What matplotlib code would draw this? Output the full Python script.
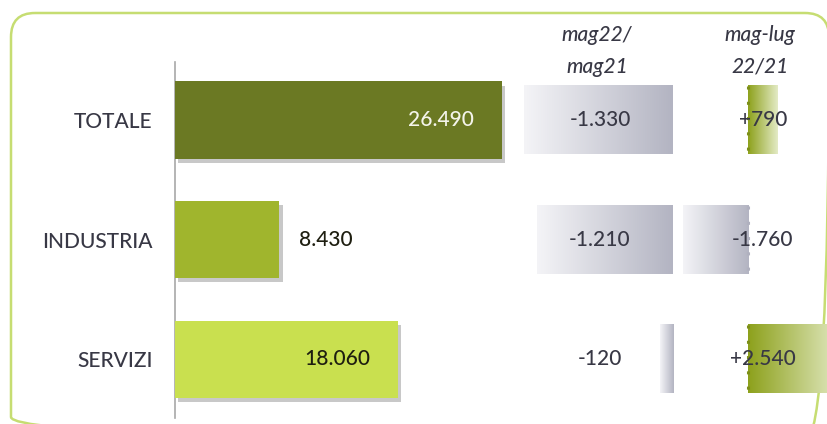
import matplotlib.pyplot as plt
import numpy as np
from matplotlib import patheffects
from matplotlib.colors import LinearSegmentedColormap
from matplotlib.patches import FancyBboxPatch

plt.rcParams["font.family"] = ["Lato", "DejaVu Sans"]
plt.rcParams["font.weight"] = "medium"

# data
categories = ["TOTALE", "INDUSTRIA", "SERVIZI"]
values = [26490, 8430, 18060]
delta_yoy = [-1330, -1210, -120]      # mag22/mag21
delta_mayjul = [790, -1760, 2540]     # mag-lug 22/21
value_labels = ["26.490", "8.430", "18.060"]
yoy_labels = ["-1.330", "-1.210", "-120"]
mayjul_labels = ["+790", "-1.760", "+2.540"]
bar_colors = ["#6b7923", "#a0b52d", "#c9e04f"]

W, H = 828, 424
TXT = "#383845"
FS = 15


def rect(x0, y0, x1, y1):
    # pixel box -> figure fraction
    return [x0 / W, 1 - y1 / H, (x1 - x0) / W, (y1 - y0) / H]


fig = plt.figure(figsize=(W / 100, H / 100), dpi=100)
fig.patch.set_facecolor("white")

# rounded green frame
deco = fig.add_axes([0, 0, 1, 1], zorder=0)
deco.set_xlim(0, W)
deco.set_ylim(H, 0)
deco.axis("off")
deco.add_patch(FancyBboxPatch((11, 13), 818, 428,
                              boxstyle="round,pad=0,rounding_size=24",
                              facecolor="none", edgecolor="#c6dd72", lw=1.8))

y = np.arange(len(categories))
ylim = (2.49, -0.485)

# main bars
ax = fig.add_axes(rect(175, 62, 533, 418), zorder=2)
ax.patch.set_alpha(0)
bars = ax.barh(y, values, height=0.645, color=bar_colors, zorder=3)
for b in bars:
    b.set_path_effects([patheffects.SimplePatchShadow(offset=(2.5, -3), shadow_rgbFace="#777777", alpha=0.4),
                        patheffects.Normal()])
ax.set_xlim(0, 29000)
ax.set_ylim(*ylim)
ax.set_yticks(y)
ax.set_yticklabels(categories, fontsize=FS, color=TXT)
ax.tick_params(axis="y", length=0, pad=16)
ax.set_xticks([])
for s in ["top", "right", "bottom"]:
    ax.spines[s].set_visible(False)
ax.spines["left"].set_color("#a8a8a8")
ax.spines["left"].set_linewidth(1.2)

for yi, v, lab in zip(y, values, value_labels):
    if v > 10000:
        col = "#f4f4ea" if v > 20000 else "#1e1e10"
        ax.annotate(lab, (v, yi), xytext=(-20, 0), textcoords="offset points",
                    ha="right", va="center", fontsize=FS, color=col, zorder=4)
    else:
        ax.annotate(lab, (v, yi), xytext=(14, 0), textcoords="offset points",
                    ha="left", va="center", fontsize=FS, color="#1e1e10", zorder=4)

gray_cmap = LinearSegmentedColormap.from_list("g", ["#f4f4f7", "#b3b4c2"])
green_cmap = LinearSegmentedColormap.from_list("gr", ["#e4ebc6", "#8da11c"])
grad = np.linspace(0, 1, 256).reshape(1, -1)


def grad_bars(a, vals, h):
    for yi, v in zip(y, vals):
        if v < 0:
            a.imshow(grad, cmap=gray_cmap, aspect="auto",
                     extent=[v, 0, yi + h / 2, yi - h / 2], zorder=2)
        else:
            a.imshow(grad[:, ::-1], cmap=green_cmap, aspect="auto",
                     extent=[0, v, yi + h / 2, yi - h / 2], zorder=2)


def clean(a):
    a.patch.set_alpha(0)
    a.set_xticks([])
    a.set_yticks([])
    for s in a.spines.values():
        s.set_visible(False)


# mag22/mag21
ax1 = fig.add_axes(rect(510, 62, 673, 418), zorder=1)
grad_bars(ax1, delta_yoy, 0.57)
ax1.set_xlim(-1455, 0)
ax1.set_ylim(*ylim)
clean(ax1)
for yi, lab in zip(y, yoy_labels):
    ax1.text(-652, yi, lab, ha="center", va="center", fontsize=FS, color=TXT, zorder=4)

# mag-lug 22/21
ax2 = fig.add_axes(rect(676, 62, 828, 418), zorder=1)
grad_bars(ax2, delta_mayjul, 0.57)
ax2.set_xlim(-1935, 2150)
ax2.set_ylim(*ylim)
clean(ax2)
for yi, v in zip(y, delta_mayjul):
    ax2.vlines(0, yi - 0.285, yi + 0.285, colors="#7d8f1a" if v > 0 else "#b0b1bf",
               linestyles=(0, (1, 4)), linewidth=2.2, zorder=3)
for yi, lab in zip(y, mayjul_labels):
    ax2.text(403, yi, lab, ha="center", va="center", fontsize=FS, color=TXT, zorder=4)

# column headers
fig.text(597 / W, 1 - 51 / H, "mag22/\nmag21", ha="center", va="center",
         fontsize=FS, style="italic", color=TXT, linespacing=1.75)
fig.text(760 / W, 1 - 51 / H, "mag-lug\n22/21", ha="center", va="center",
         fontsize=FS, style="italic", color=TXT, linespacing=1.75)

fig.savefig("out.png", dpi=100, facecolor="white")
